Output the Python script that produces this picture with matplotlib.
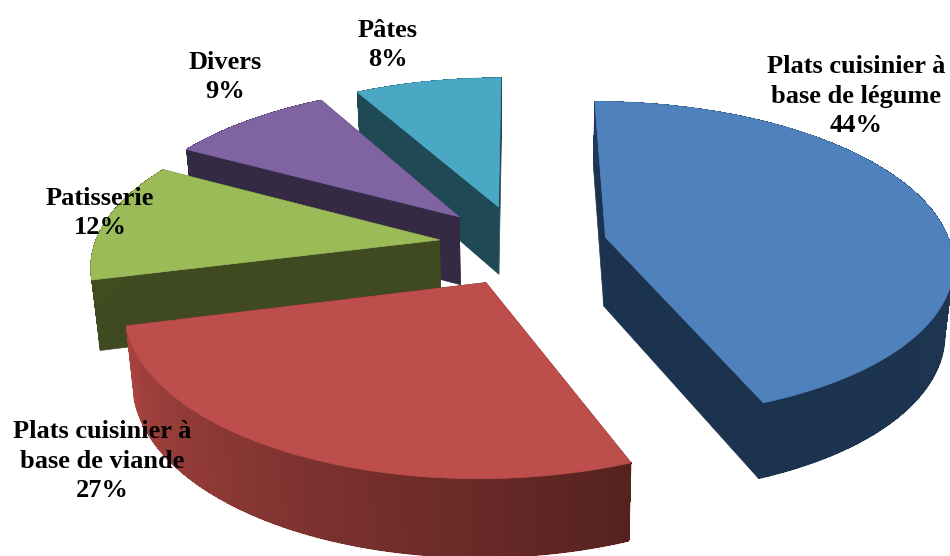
import numpy as np
import matplotlib
matplotlib.use("Agg")
import matplotlib.pyplot as plt
from matplotlib.patches import Polygon
from matplotlib.collections import LineCollection

labels = ["Plats cuisinier à\nbase de légume\n44%", "Plats cuisinier à\nbase de viande\n27%",
          "Patisserie\n12%", "Divers\n9%", "Pâtes\n8%"]
values = [44, 27, 12, 9, 8]
top_colors = ["#4f81bd", "#bd4e4b", "#9bbb59", "#8064a2", "#4ba8c4"]
cut_colors = ["#1c334f", "#5a2320", "#3f4a20", "#342a44", "#1f4a55"]
side_start = ["#1c334f", "#a94440", "#45521f", "#342a44", "#1f4a55"]
side_end = ["#1f3a58", "#552220", "#3f4a20", "#342a44", "#1f4a55"]
label_pos = [(856, 96), (102, 461), (100, 213), (225, 77), (388, 45)]
nudge_x = [-2, 8, 8, 1, 0]

# projection of the tilted pie into image pixels
X0, Y0 = 520, 245
A, B = 345, 157
K = 0.14
H = 69
EXPLODE = 0.26


def project(x, y, low=False, dx=0):
    w = 1 + K * y
    sx = A * x / w
    sy = -B * y / w
    if low:
        return X0 + dx + sx * 0.98, Y0 + sy * 0.98 + H / w
    return X0 + dx + sx, Y0 + sy


def hex_rgb(c):
    return np.array(matplotlib.colors.to_rgb(c))


fig = plt.figure(figsize=(9.5, 5.56), dpi=100)
ax = fig.add_axes([0, 0, 1, 1])
ax.set_xlim(0, 950)
ax.set_ylim(556, 0)
ax.axis("off")

# angles clockwise from the back of the pie
edges = np.cumsum([0] + values) / sum(values) * 2 * np.pi

# back slices first, blue last
for i in [4, 3, 2, 1, 0]:
    z = 5 - i
    d = nudge_x[i]
    a0, a1 = edges[i], edges[i + 1]
    mid = (a0 + a1) / 2
    ex, ey = EXPLODE * np.sin(mid), EXPLODE * np.cos(mid)
    t = np.linspace(a0, a1, 120)
    xs = ex + np.sin(t)
    ys = ey + np.cos(t)

    # cut faces
    for a in (a0, a1):
        px, py = ex + np.sin(a), ey + np.cos(a)
        face = [project(ex, ey, dx=d), project(px, py, dx=d),
                project(px, py, True, d), project(ex, ey, True, d)]
        ax.add_patch(Polygon(face, closed=True, fc=cut_colors[i], ec=cut_colors[i], lw=0.5, zorder=z))

    # outer wall, split up for the shading
    c0, c1 = hex_rgb(side_end[i]), hex_rgb(side_start[i])
    low_line = []
    low_cols = []
    for j in range(len(t) - 1):
        f = j / (len(t) - 2)
        col = c0 + (c1 - c0) * f
        k = min(j + 2, len(t) - 1)
        quad = [project(xs[j], ys[j], dx=d), project(xs[k], ys[k], dx=d),
                project(xs[k], ys[k], True, d), project(xs[j], ys[j], True, d)]
        ax.add_patch(Polygon(quad, closed=True, fc=col, ec="none", antialiased=False, zorder=z))
        low_line.append([project(xs[j], ys[j], True, d), project(xs[j + 1], ys[j + 1], True, d)])
        low_cols.append(col)
    ax.add_collection(LineCollection(low_line, colors=low_cols, linewidths=1, zorder=z))

    # top face
    top = [project(ex, ey, dx=d)] + [project(a, b, dx=d) for a, b in zip(xs, ys)]
    ax.add_patch(Polygon(top, closed=True, fc=top_colors[i], ec=top_colors[i], lw=0.5, zorder=z))

for lab, (lx, ly) in zip(labels, label_pos):
    ax.text(lx, ly, lab, ha="center", va="center", family="Liberation Serif", fontweight="bold",
            fontsize=19, linespacing=1.37, color="black", zorder=10)

fig.savefig("out.png", dpi=100)
